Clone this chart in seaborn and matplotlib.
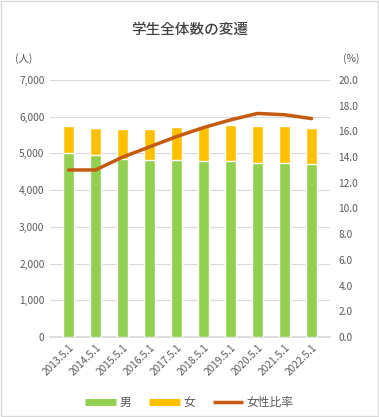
import matplotlib
matplotlib.use("Agg")
import matplotlib.pyplot as plt
import seaborn as sns
import pandas as pd
from matplotlib.lines import Line2D

years = ["2013.5.1", "2014.5.1", "2015.5.1", "2016.5.1", "2017.5.1",
         "2018.5.1", "2019.5.1", "2020.5.1", "2021.5.1", "2022.5.1"]
male = [5020, 4960, 4850, 4820, 4820, 4800, 4800, 4750, 4750, 4715]
female = [740, 745, 820, 850, 910, 915, 980, 1010, 1010, 990]
ratio = [13.0, 13.0, 14.0, 14.8, 15.6, 16.3, 16.9, 17.4, 17.3, 17.0]

sns.set_theme(style="white")
plt.rcParams['font.family'] = ['Noto Sans CJK JP', 'DejaVu Sans']

df = pd.DataFrame({"year": years, "male": male, "female": female, "ratio": ratio})
df["total"] = df["male"] + df["female"]

fig = plt.figure(figsize=(3.79, 4.17), dpi=100)
ax = fig.add_axes([0.132, 0.192, 0.739, 0.616])

green = "#92D050"
yellow = "#FFC000"
orange = "#C55A11"
tick_color = "#595959"

sns.barplot(data=df, x="year", y="total", color=yellow, width=0.43, ax=ax,
            saturation=1, zorder=2)
sns.barplot(data=df, x="year", y="male", color=green, width=0.43, ax=ax,
            saturation=1, zorder=3)
ax.set_ylim(0, 7000)
ax.set_yticks(range(0, 7001, 1000))
ax.set_yticklabels([f"{v:,}" for v in range(0, 7001, 1000)])
ax.yaxis.grid(True, color="#D9D9D9", linewidth=0.8, zorder=0)
ax.set_axisbelow(True)
ax.set_xlabel("")
ax.set_ylabel("")
for s in ["top", "right", "left"]:
    ax.spines[s].set_visible(False)
ax.spines["bottom"].set_color("#D9D9D9")
ax.tick_params(axis="both", labelsize=7.3, colors=tick_color, length=0, pad=4)
plt.setp(ax.get_xticklabels(), rotation=45, ha="right", rotation_mode="anchor")

ax2 = ax.twinx()
sns.lineplot(data=df, x="year", y="ratio", color=orange, linewidth=2.5, ax=ax2,
             zorder=5, sort=False)
ax2.set_ylim(0, 20)
ax2.set_yticks(range(0, 21, 2))
ax2.set_yticklabels([f"{v:.1f}" for v in range(0, 21, 2)])
ax2.set_ylabel("")
ax2.set_xlabel("")
for s in ["top", "right", "left", "bottom"]:
    ax2.spines[s].set_visible(False)
ax2.tick_params(axis="y", labelsize=7.3, colors=tick_color, length=0, pad=6)
ax2.grid(False)

fig.text(0.5, 0.928, "学生全体数の変遷", ha="center", va="center",
         fontsize=10.5, color="#404040", fontweight="medium")
fig.text(0.04, 0.86, "(人)", ha="left", va="center", fontsize=7.5, color=tick_color)
fig.text(0.905, 0.86, "(%)", ha="left", va="center", fontsize=7.5, color=tick_color)

handles = [Line2D([0], [0], color=green, linewidth=5, solid_capstyle="butt"),
           Line2D([0], [0], color=yellow, linewidth=5, solid_capstyle="butt"),
           Line2D([0], [0], color=orange, linewidth=2.5, solid_capstyle="butt")]
fig.legend(handles, ["男", "女", "女性比率"], loc="center", bbox_to_anchor=(0.5, 0.034),
           ncol=3, frameon=False, fontsize=8.5, handlelength=2.6, columnspacing=1.5,
           handletextpad=0.3, labelcolor=tick_color)

fig.patches.append(plt.Rectangle((0.002, 0.002), 0.996, 0.996, transform=fig.transFigure,
                                 fill=False, edgecolor="#D9D9D9", linewidth=1))
fig.savefig("out.png", dpi=100)
